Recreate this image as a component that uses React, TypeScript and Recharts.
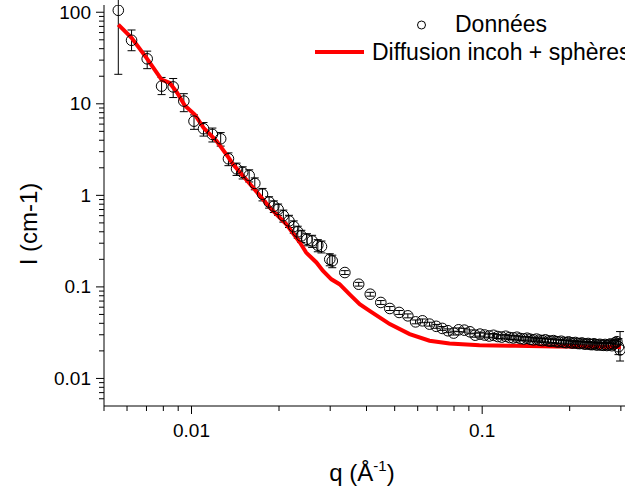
import React from 'react';
import { ComposedChart, Scatter, Line, XAxis, YAxis, ErrorBar, Legend, Label } from 'recharts';

const FONT = '"Liberation Sans", Arial, Helvetica, sans-serif';
const PLOT_LEFT = 104;
const PLOT_TOP = 5;
const PLOT_BOTTOM = 406;

// ---- measured data (q in Å^-1, I in cm^-1) ----
const qValues = [
  0.0056, 0.00622, 0.00704, 0.00789, 0.00865, 0.00941, 0.0102, 0.011, 0.0118, 0.0126,
  0.0134, 0.01429, 0.015, 0.01579, 0.01651, 0.01755, 0.01849, 0.0192, 0.01986, 0.0207,
  0.02165, 0.02248, 0.0232, 0.02388, 0.02496, 0.026, 0.0272, 0.028, 0.0299, 0.0305,
  0.0337, 0.0376, 0.0412, 0.0448, 0.0481, 0.0518, 0.0555, 0.059, 0.0623, 0.0659,
  0.0695, 0.0729, 0.0762, 0.0798, 0.083, 0.0868, 0.0908, 0.0946,
  0.0983, 0.102, 0.1057, 0.1094, 0.1131, 0.1168, 0.1205, 0.1242, 0.1279, 0.1316,
  0.1353, 0.139, 0.1427, 0.1464, 0.1501, 0.1538, 0.1575, 0.1612, 0.1649, 0.1686,
  0.1723, 0.176, 0.1797, 0.1834, 0.1871, 0.1908, 0.1945, 0.1982, 0.2019, 0.2056,
  0.2093, 0.213, 0.2167, 0.2204, 0.2241, 0.2278, 0.2315, 0.2352, 0.2389, 0.2426,
  0.2463, 0.25, 0.2537, 0.2574, 0.2611, 0.2648, 0.2685, 0.2722, 0.2759, 0.2796,
  0.2833, 0.287, 0.2907, 0.2944, 0.2981,
];
const intensity = [
  105, 49.4, 31.0, 15.6, 15.3, 10.7, 6.46, 5.34, 4.63, 4.15,
  2.51, 1.95, 1.78, 1.65, 1.35, 1.03, 0.845, 0.76, 0.704, 0.6,
  0.525, 0.456, 0.4, 0.36, 0.331, 0.318, 0.285, 0.276, 0.2, 0.192,
  0.1435, 0.107, 0.0832, 0.0676, 0.0581, 0.0526, 0.0483, 0.0415, 0.0426, 0.0392,
  0.0371, 0.0352, 0.0332, 0.0313, 0.034, 0.0337, 0.0323, 0.0297,
  0.0305, 0.0298, 0.0291, 0.0296, 0.0287, 0.0283, 0.0289, 0.028, 0.0277, 0.0282,
  0.0273, 0.027, 0.0275, 0.0268, 0.0264, 0.0269, 0.0262, 0.0259, 0.0264, 0.0257,
  0.0255, 0.0259, 0.0252, 0.025, 0.0255, 0.0248, 0.0246, 0.0251, 0.0245, 0.0243,
  0.0247, 0.0241, 0.024, 0.0244, 0.0238, 0.0237, 0.0241, 0.0235, 0.0234, 0.0239,
  0.0233, 0.0232, 0.0236, 0.0231, 0.023, 0.0235, 0.0229, 0.0233, 0.0238, 0.0228,
  0.0236, 0.0246, 0.0252, 0.0222, 0.0205,
];
const errLow = [
  84, 11.4, 6.8, 3.0, 3.6, 2.5, 1.2, 0.9, 0.8, 0.7,
  0.4, 0.3, 0.27, 0.25, 0.2, 0.16, 0.12, 0.11, 0.1, 0.09,
  0.08, 0.07, 0.06, 0.055, 0.05, 0.048, 0.043, 0.041, 0.03, 0.03,
  0.007, 0.005, 0.004, 0.0033, 0.0029, 0.0026, 0.0024, 0.002, 0.002, 0.0019,
  0.0018, 0.0017, 0.0016, 0.0015, 0.0016, 0.0016, 0.0016, 0.0015,
  0.0015, 0.0015, 0.0014, 0.0014, 0.0014, 0.0014, 0.0014, 0.0014, 0.0014, 0.0014,
  0.0013, 0.0013, 0.0013, 0.0013, 0.0013, 0.0013, 0.0013, 0.0013, 0.0013, 0.0013,
  0.0012, 0.0012, 0.0012, 0.0012, 0.0012, 0.0012, 0.0012, 0.0012, 0.0012, 0.0012,
  0.0012, 0.0012, 0.0012, 0.0012, 0.0012, 0.0012, 0.0012, 0.0012, 0.0012, 0.0012,
  0.0012, 0.0012, 0.0012, 0.0012, 0.0012, 0.0012, 0.0012, 0.0013, 0.0013, 0.0013,
  0.0013, 0.0014, 0.0015, 0.004, 0.005,
];
const errHigh = [
  84, 14.6, 6.6, 3.8, 3.6, 2.2, 1.1, 0.9, 0.8, 0.7,
  0.4, 0.3, 0.27, 0.25, 0.2, 0.16, 0.12, 0.11, 0.1, 0.09,
  0.08, 0.07, 0.06, 0.055, 0.05, 0.048, 0.043, 0.041, 0.03, 0.03,
  0.007, 0.005, 0.004, 0.0033, 0.0029, 0.0026, 0.0024, 0.002, 0.002, 0.0019,
  0.0018, 0.0017, 0.0016, 0.0015, 0.0016, 0.0016, 0.0016, 0.0015,
  0.0015, 0.0015, 0.0014, 0.0014, 0.0014, 0.0014, 0.0014, 0.0014, 0.0014, 0.0014,
  0.0013, 0.0013, 0.0013, 0.0013, 0.0013, 0.0013, 0.0013, 0.0013, 0.0013, 0.0013,
  0.0012, 0.0012, 0.0012, 0.0012, 0.0012, 0.0012, 0.0012, 0.0012, 0.0012, 0.0012,
  0.0012, 0.0012, 0.0012, 0.0012, 0.0012, 0.0012, 0.0012, 0.0012, 0.0012, 0.0012,
  0.0012, 0.0012, 0.0012, 0.0012, 0.0012, 0.0012, 0.0012, 0.0013, 0.0013, 0.0013,
  0.0013, 0.0014, 0.0015, 0.005, 0.012,
];

// fitted model curve
const fitQ = [
  0.0056, 0.00622, 0.007, 0.00789, 0.00842, 0.00893, 0.00948, 0.01026, 0.011, 0.0122,
  0.0134, 0.0139, 0.0163, 0.0186, 0.0212, 0.0236, 0.0248, 0.0269, 0.0283, 0.0303,
  0.0323, 0.035, 0.0379, 0.041, 0.0481, 0.0563, 0.0659, 0.0772, 0.0979, 0.13,
  0.18, 0.24, 0.3,
];
const fitI = [
  73.3, 52.5, 31.8, 18.4, 16.9, 13.2, 9.57, 7.64, 5.47, 3.91,
  2.6, 2.18, 1.21, 0.734, 0.483, 0.305, 0.237, 0.185, 0.15, 0.121,
  0.107, 0.083, 0.0647, 0.0547, 0.0392, 0.0305, 0.0258, 0.0241, 0.0231, 0.0227,
  0.0224, 0.0222, 0.022,
];

const seriesNames = ['Données', 'Diffusion incoh + sphères'];

const xTicks = [
  0.005, 0.006, 0.007, 0.008, 0.009, 0.01, 0.02, 0.03, 0.04, 0.05, 0.06, 0.07, 0.08, 0.09,
  0.1, 0.2, 0.3,
];
const xMajor = [0.01, 0.1];
const xMajorLabels = ['0.01', '0.1'];

const yTicks = [
  0.006, 0.007, 0.008, 0.009, 0.01, 0.02, 0.03, 0.04, 0.05, 0.06, 0.07, 0.08, 0.09,
  0.1, 0.2, 0.3, 0.4, 0.5, 0.6, 0.7, 0.8, 0.9, 1, 2, 3, 4, 5, 6, 7, 8, 9,
  10, 20, 30, 40, 50, 60, 70, 80, 90, 100,
];
const yMajor = [0.01, 0.1, 1, 10, 100];
const yMajorLabels = ['0.01', '0.1', '1', '10', '100'];

const topTicks = [0, 1, 2, 3, 4, 5, 6, 7, 8, 9];

const points = qValues.map((q, i) => ({ q, I: intensity[i], err: [errLow[i], errHigh[i]] }));
const fit = fitQ.map((q, i) => ({ q, I: fitI[i] }));

const XTick = (props: any) => {
  const { x, payload } = props;
  const idx = xMajor.indexOf(payload.value);
  const major = idx >= 0;
  return (
    <g>
      <line x1={x} y1={PLOT_BOTTOM} x2={x} y2={PLOT_BOTTOM + (major ? 8 : 5)} stroke="#000" strokeWidth={1} />
      {major && (
        <text x={x} y={437} textAnchor="middle" fontFamily={FONT} fontSize={19} fill="#000">
          {xMajorLabels[idx]}
        </text>
      )}
    </g>
  );
};

const YTick = (props: any) => {
  const { y, payload } = props;
  const idx = yMajor.indexOf(payload.value);
  const major = idx >= 0;
  return (
    <g>
      <line x1={PLOT_LEFT - (major ? 8 : 5)} y1={y} x2={PLOT_LEFT} y2={y} stroke="#000" strokeWidth={1} />
      {major && (
        <text x={91} y={y + 6.5} textAnchor="end" fontFamily={FONT} fontSize={19} fill="#000">
          {yMajorLabels[idx]}
        </text>
      )}
    </g>
  );
};

const TopTick = (props: any) => {
  const { x } = props;
  return <line x1={x} y1={PLOT_TOP} x2={x} y2={PLOT_TOP + 3} stroke="#000" strokeWidth={1} />;
};

const XTitle = () => (
  <text x={362} y={481} textAnchor="middle" fontFamily={FONT} fontSize={24} fill="#000">
    <tspan>q (Å</tspan>
    <tspan dy={-10} fontSize={15}>-1</tspan>
    <tspan dy={10}>)</tspan>
  </text>
);

const YTitle = () => (
  <text
    x={28}
    y={224}
    transform="rotate(-90, 28, 224)"
    textAnchor="middle"
    dominantBaseline="central"
    fontFamily={FONT}
    fontSize={24}
    fill="#000"
  >
    I (cm-1)
  </text>
);

const LegendContent = () => (
  <svg width={625} height={70} style={{ display: 'block' }}>
    <circle cx={421.5} cy={25} r={4} fill="none" stroke="#000" strokeWidth={1} />
    <text x={455} y={32} fontFamily={FONT} fontSize={23} fill="#000">
      {seriesNames[0]}
    </text>
    <line x1={315} y1={52} x2={364} y2={52} stroke="#ff0000" strokeWidth={4} />
    <text x={372} y={60} fontFamily={FONT} fontSize={23} fill="#000">
      {seriesNames[1]}
    </text>
  </svg>
);

const CircleShape = (props: any) => {
  const { cx, cy } = props;
  if (cx == null || cy == null) return <g />;
  return <circle cx={cx} cy={cy} r={5.3} fill="none" stroke="#000" strokeWidth={1} />;
};

export default function App() {
  return (
    <div style={{ position: 'absolute', left: 0, top: 0, width: 625, height: 492, overflow: 'hidden', background: '#fff' }}>
      <ComposedChart width={625} height={492} margin={{ top: 5, right: 0, left: 0, bottom: 0 }}>
        <XAxis
          dataKey="q"
          type="number"
          scale="log"
          domain={[0.005, 0.31]}
          allowDataOverflow
          ticks={xTicks}
          interval={0}
          tick={XTick}
          tickLine={false}
          axisLine={{ stroke: '#000', strokeWidth: 1 }}
          height={86}
        >
          <Label content={XTitle} />
        </XAxis>
        <XAxis
          xAxisId="top"
          orientation="top"
          type="number"
          domain={[0, 9.77]}
          allowDataOverflow
          ticks={topTicks}
          interval={0}
          tick={TopTick}
          tickLine={false}
          axisLine={{ stroke: '#000', strokeWidth: 1 }}
          height={0}
        />
        <YAxis
          type="number"
          scale="log"
          domain={[0.005, 120]}
          allowDataOverflow
          ticks={yTicks}
          interval={0}
          tick={YTick}
          tickLine={false}
          axisLine={{ stroke: '#000', strokeWidth: 1 }}
          width={104}
        >
          <Label content={YTitle} />
        </YAxis>
        <Scatter name={seriesNames[0]} data={points} dataKey="I" shape={CircleShape} isAnimationActive={false}>
          <ErrorBar dataKey="err" direction="y" width={4} stroke="#000" strokeWidth={1} isAnimationActive={false} />
        </Scatter>
        <Line
          name={seriesNames[1]}
          data={fit}
          dataKey="I"
          type="linear"
          stroke="#ff0000"
          strokeWidth={4}
          dot={false}
          activeDot={false}
          isAnimationActive={false}
        />
        <Legend
          layout="horizontal"
          verticalAlign="middle"
          align="center"
          content={LegendContent}
          wrapperStyle={{ position: 'absolute', left: 0, top: 0, width: 625, height: 70 }}
        />
      </ComposedChart>
    </div>
  );
}
